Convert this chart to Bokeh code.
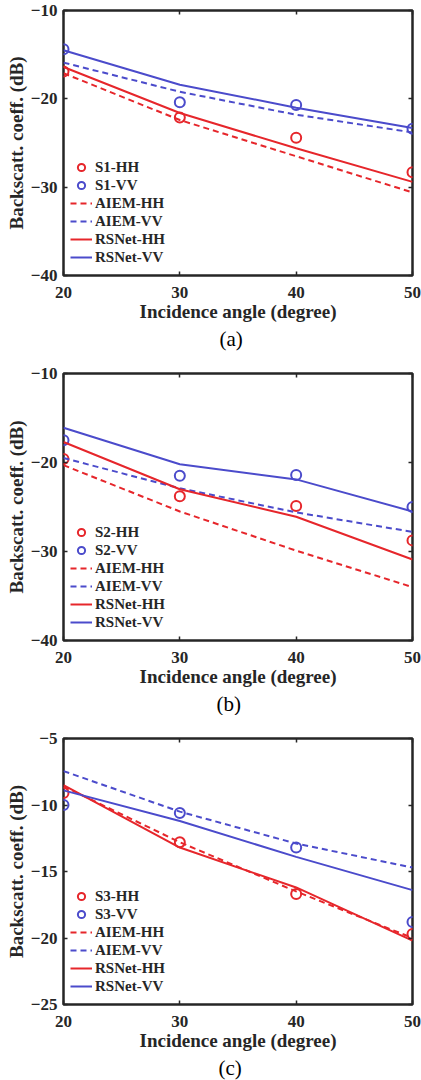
from bokeh.plotting import figure
from bokeh.models import LinearAxis, Range1d, Legend, LegendItem, Title, FixedTicker
from bokeh.layouts import column
from bokeh.embed import file_html
from bokeh.resources import INLINE

# ---------------- data ----------------
angles = [20, 30, 40, 50]
x_ticks = [20, 30, 40, 50]

# panel (a)
s1_hh = [-16.9, -22.1, -24.4, -28.3]
s1_vv = [-14.4, -20.4, -20.7, -23.4]
aiem1_hh = [-17.1, -22.4, -26.5, -30.6]
aiem1_vv = [-15.9, -19.2, -21.8, -23.8]
rsnet1_hh = [-16.4, -21.6, -25.6, -29.4]
rsnet1_vv = [-14.5, -18.4, -21.0, -23.3]
y_ticks_a = [-40, -30, -20, -10]

# panel (b)
s2_hh = [-19.6, -23.8, -24.9, -28.75]
s2_vv = [-17.5, -21.5, -21.4, -25.0]
aiem2_hh = [-20.3, -25.5, -29.9, -34.0]
aiem2_vv = [-19.5, -22.9, -25.6, -27.8]
rsnet2_hh = [-17.7, -23.0, -26.1, -30.9]
rsnet2_vv = [-16.1, -20.2, -21.9, -25.5]
y_ticks_b = [-40, -30, -20, -10]

# panel (c)
s3_hh = [-9.1, -12.8, -16.7, -19.7]
s3_vv = [-10.0, -10.6, -13.2, -18.8]
aiem3_hh = [-8.6, -12.8, -16.5, -20.0]
aiem3_vv = [-7.45, -10.5, -12.9, -14.7]
rsnet3_hh = [-8.5, -13.2, -16.2, -20.2]
rsnet3_vv = [-8.9, -11.2, -13.9, -16.4]
y_ticks_c = [-25, -20, -15, -10, -5]

RED = "#E6262B"
BLUE = "#4B4BCB"
DARK = "#262626"
FONT = "Liberation Serif"


def make_panel(tag, meas_hh, meas_vv, aiem_hh, aiem_vv, rs_hh, rs_vv, yticks,
               height, border_left, border_right, border_top, border_bottom,
               caption, caption_offset):
    p = figure(width=421, height=height, output_backend="svg", toolbar_location=None,
               x_range=Range1d(20, 50), y_range=Range1d(min(yticks), max(yticks)),
               min_border_left=border_left, min_border_right=border_right,
               min_border_top=border_top, min_border_bottom=border_bottom)
    p.grid.visible = False
    p.outline_line_color = DARK
    p.outline_line_width = 2.5
    p.background_fill_color = "white"
    p.border_fill_color = "white"

    for ax in (p.xaxis[0], p.yaxis[0]):
        ax.axis_line_color = None
        ax.major_tick_in = 4
        ax.major_tick_out = 0
        ax.minor_tick_line_color = None
        ax.major_tick_line_color = DARK
        ax.major_tick_line_width = 1.5
        ax.major_label_text_font = FONT
        ax.major_label_text_font_style = "bold"
        ax.major_label_text_font_size = "17px"
        ax.major_label_text_color = DARK
        ax.axis_label_text_font = FONT
        ax.axis_label_text_font_style = "bold"
        ax.axis_label_text_font_size = "19px"
        ax.axis_label_text_color = DARK
    p.xaxis[0].ticker = FixedTicker(ticks=x_ticks)
    p.yaxis[0].ticker = FixedTicker(ticks=yticks)
    p.xaxis[0].axis_label = "Incidence angle (degree)"
    p.yaxis[0].axis_label = "Backscatt. coeff. (dB)"
    p.xaxis[0].major_label_standoff = 11
    p.xaxis[0].axis_label_standoff = 0
    p.yaxis[0].major_label_standoff = 6
    p.yaxis[0].axis_label_standoff = 1

    for side, ticks in (("right", yticks), ("above", x_ticks)):
        ax = LinearAxis(ticker=FixedTicker(ticks=ticks), axis_line_color=None,
                        major_tick_in=4, major_tick_out=0, major_tick_line_color=DARK,
                        major_tick_line_width=1.5, minor_tick_line_color=None,
                        major_label_text_font_size="0px", major_label_text_color=None,
                        major_label_standoff=0)
        p.add_layout(ax, side)

    r1 = p.scatter(angles, meas_hh, marker="circle", size=10, fill_color=None,
                   line_color=RED, line_width=2)
    r2 = p.scatter(angles, meas_vv, marker="circle", size=10, fill_color=None,
                   line_color=BLUE, line_width=2)
    r3 = p.line(angles, aiem_hh, line_color=RED, line_width=2, line_dash="6 4")
    r4 = p.line(angles, aiem_vv, line_color=BLUE, line_width=2, line_dash="6 4")
    r5 = p.line(angles, rs_hh, line_color=RED, line_width=2)
    r6 = p.line(angles, rs_vv, line_color=BLUE, line_width=2)

    legend = Legend(items=[
        LegendItem(label=f"{tag}-HH", renderers=[r1]),
        LegendItem(label=f"{tag}-VV", renderers=[r2]),
        LegendItem(label="AIEM-HH", renderers=[r3]),
        LegendItem(label="AIEM-VV", renderers=[r4]),
        LegendItem(label="RSNet-HH", renderers=[r5]),
        LegendItem(label="RSNet-VV", renderers=[r6]),
    ], location=(7, 9), border_line_color=None, background_fill_alpha=0,
        label_text_font=FONT, label_text_font_style="bold", label_text_font_size="15px",
        label_text_color=DARK, glyph_width=22, glyph_height=18, label_height=18,
        spacing=0, padding=5, margin=0, label_standoff=3)
    p.add_layout(legend, "center")

    p.add_layout(Title(text=caption, align="left", offset=caption_offset, standoff=0,
                       text_font=FONT, text_font_style="normal", text_font_size="21px",
                       text_line_height=0.8, text_color="black"), "below")
    return p


fa = make_panel("S1", s1_hh, s1_vv, aiem1_hh, aiem1_vv, rsnet1_hh, rsnet1_vv, y_ticks_a,
                height=355, border_left=60, border_right=8, border_top=10, border_bottom=80,
                caption="(a)", caption_offset=156)
fb = make_panel("S2", s2_hh, s2_vv, aiem2_hh, aiem2_vv, rsnet2_hh, rsnet2_vv, y_ticks_b,
                height=360, border_left=63, border_right=5, border_top=18, border_bottom=75,
                caption="(b)", caption_offset=153)
fc = make_panel("S3", s3_hh, s3_vv, aiem3_hh, aiem3_vv, rsnet3_hh, rsnet3_vv, y_ticks_c,
                height=365, border_left=61, border_right=9, border_top=23, border_bottom=76,
                caption="(c)", caption_offset=155)

layout = column(fa, fb, fc)
open("out.html", "w").write(file_html(layout, INLINE))
